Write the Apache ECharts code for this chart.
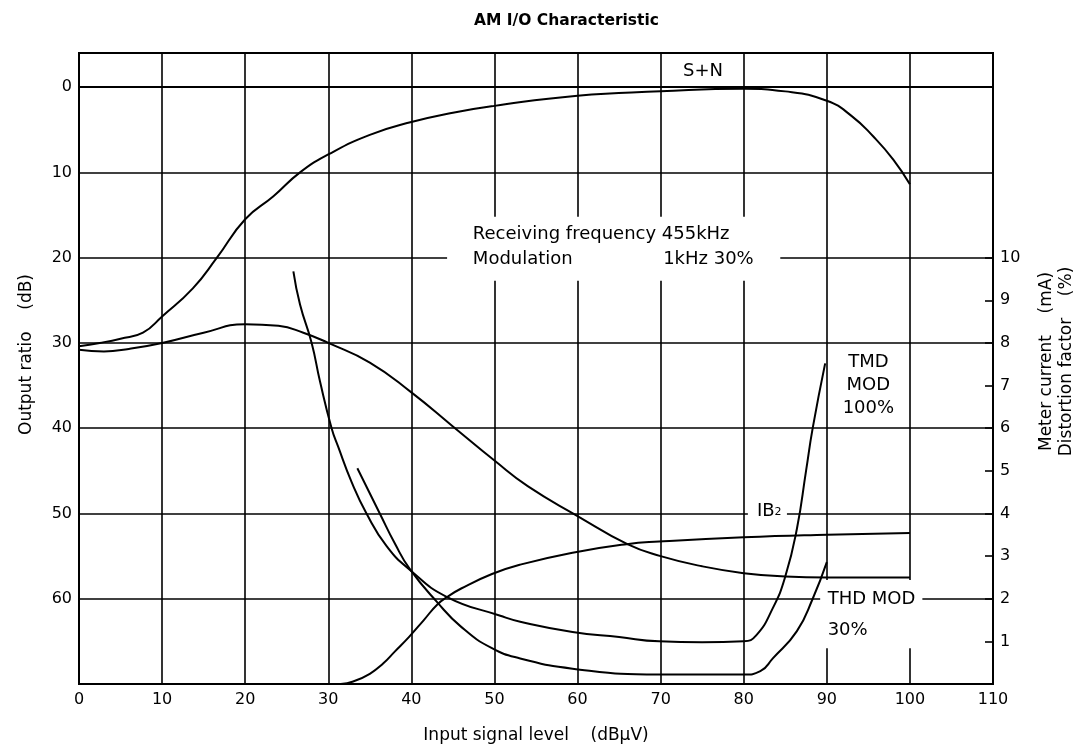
<!DOCTYPE html>
<html>
<head>
<meta charset="utf-8">
<title>AM I/O Characteristic</title>
<script src="https://cdn.jsdelivr.net/npm/echarts@6/dist/echarts.min.js"></script>
<style>
    html, body { margin: 0; padding: 0; background: #fff; }
    #chart0 { width: 1087px; height: 751px; }
</style>
</head>
<body>
<div id="chart0"></div>
<script>
// S+N output (dB, left axis)
var snX  = [0, 2.5, 5, 7.7, 10, 13.7, 16.6, 20, 23.4, 26.6, 30, 35, 40, 45, 50, 60, 70, 80, 85, 90, 93, 95.6, 98, 100];
var snDb = [30.4, 30.0, 29.5, 28.8, 26.9, 23.6, 20.0, 15.5, 12.8, 10.0, 7.9, 5.6, 4.1, 3.0, 2.2, 1.0, 0.5, 0.2, 0.5, 1.6, 3.4, 5.8, 8.5, 11.4];

// noise output (dB, left axis)
var nX  = [0, 3, 6, 10, 15, 20, 24, 27, 30, 35, 40, 45, 50, 54, 60, 66, 70, 75, 80, 85, 90, 100];
var nDb = [30.8, 31.0, 30.7, 30.0, 28.8, 27.8, 28.0, 28.8, 30.0, 32.3, 35.8, 39.8, 43.8, 46.8, 50.3, 53.6, 55.0, 56.2, 57.0, 57.4, 57.5, 57.5];

// TMD MOD 100% (%, right axis)
var tmdX = [25.8, 26.6, 28.0, 29.0, 30.4, 31.2, 32.8, 34.6, 37.0, 39.8, 44.3, 50.7, 53.1, 59.4, 65, 69.8, 75, 80, 81.5, 83.5, 85, 86.4, 87.5, 88.3, 89.8];
var tmdV = [9.68, 8.9, 8.0, 7.1, 6.0, 5.56, 4.74, 4.0, 3.24, 2.68, 2.04, 1.6, 1.46, 1.22, 1.1, 1.0, 0.98, 1.0, 1.14, 1.78, 2.52, 3.64, 5.0, 6.0, 7.52];

// THD MOD 30% (%, right axis)
var thdX = [33.5, 36.2, 38, 39.8, 43.1, 46, 49.7, 53.1, 59.4, 69.8, 80, 82, 83.5, 86.4, 88.3, 90];
var thdV = [5.06, 4.0, 3.3, 2.7, 1.92, 1.34, 0.84, 0.6, 0.36, 0.22, 0.22, 0.3, 0.6, 1.24, 2.0, 2.86];

// IB2 meter current (mA, right axis)
var ibX = [31.5, 33, 35, 36.6, 38, 39.7, 41.5, 43.1, 44.3, 46, 49.7, 53.1, 59.4, 65.9, 69.8, 80, 90, 100];
var ibV = [0, 0.06, 0.24, 0.48, 0.76, 1.1, 1.5, 1.86, 2.04, 2.24, 2.58, 2.8, 3.08, 3.28, 3.34, 3.44, 3.5, 3.54];

// tick labels
var dbTicks = [0, 10, 20, 30, 40, 50, 60];
var rightTicks = [1, 2, 3, 4, 5, 6, 7, 8, 9, 10];

var FONT = 'DejaVu Sans';

function pairs(xs, ys) {
    return xs.map(function (x, i) { return [x, ys[i]]; });
}

function curve(name, axis, xs, ys) {
    return {
        name: name,
        type: 'line',
        yAxisIndex: axis,
        data: pairs(xs, ys),
        symbol: 'none',
        smooth: 0.5,
        z: 3,
        lineStyle: { color: '#000', width: 2 }
    };
}

var chartDom = document.getElementById('chart0');
var myChart = echarts.init(chartDom);
var gridLine = { lineStyle: { color: '#000', width: 1.6 } };

var option = {
    animation: false,
    backgroundColor: '#fff',
    textStyle: { fontFamily: FONT, color: '#000' },
    title: {
        text: 'AM I/O Characteristic',
        left: 469,
        top: 8,
        textStyle: { fontFamily: FONT, fontSize: 15.5, fontWeight: 'bold', color: '#000' }
    },
    grid: {
        left: 79, right: 94, top: 53, bottom: 67,
        show: true,
        borderColor: '#000',
        borderWidth: 2
    },
    xAxis: {
        type: 'value',
        min: 0,
        max: 110,
        interval: 10,
        name: 'Input signal level    (dBµV)',
        nameLocation: 'middle',
        nameGap: 43,
        nameTextStyle: { fontSize: 17, color: '#000' },
        axisLine: { lineStyle: { color: '#000', width: 2 } },
        axisTick: { show: false },
        axisLabel: { fontSize: 16, color: '#000', margin: 8 },
        splitLine: gridLine
    },
    yAxis: [
        {
            type: 'value',
            inverse: true,
            min: -4,
            max: 70,
            splitNumber: 7,
            position: 'left',
            name: 'Output ratio    (dB)',
            nameLocation: 'middle',
            nameRotate: 90,
            nameGap: 44,
            nameTextStyle: { fontSize: 17, color: '#000', padding: [0, 0, 0, 28] },
            axisLine: { lineStyle: { color: '#000', width: 2 } },
            axisTick: { show: false },
            axisLabel: { customValues: dbTicks, fontSize: 16, color: '#000', margin: 7 },
            splitLine: gridLine
        },
        {
            type: 'value',
            min: 0,
            max: 14.8,
            position: 'right',
            name: 'Meter current    (mA)\nDistortion factor    (%)',
            nameLocation: 'middle',
            nameRotate: 90,
            nameGap: 44,
            nameTextStyle: { fontSize: 17, color: '#000', lineHeight: 20, padding: [0, 0, 0, 14] },
            axisLine: { lineStyle: { color: '#000', width: 2 } },
            axisTick: {
                show: true, inside: true, length: 8, customValues: rightTicks,
                lineStyle: { color: '#000', width: 1.6 }
            },
            axisLabel: { customValues: rightTicks, fontSize: 16, color: '#000', margin: 7 },
            splitLine: { show: false }
        }
    ],
    series: [
        curve('S+N', 0, snX, snDb),
        curve('N', 0, nX, nDb),
        curve('TMD MOD 100%', 1, tmdX, tmdV),
        curve('THD MOD 30%', 1, thdX, thdV),
        curve('IB2', 1, ibX, ibV)
    ]
};

option && myChart.setOption(option);

// annotations, placed in (input level, dB) terms
function px(x, db) {
    return myChart.convertToPixel({ xAxisIndex: 0, yAxisIndex: 0 }, [x, db]);
}

function blank(x0, d0, x1, d1) {
    var a = px(x0, d0), b = px(x1, d1);
    return {
        type: 'rect', z: 1, silent: true,
        shape: { x: a[0], y: a[1], width: b[0] - a[0], height: b[1] - a[1] },
        style: { fill: '#fff' }
    };
}

function note(x, db, text, size, align, lh) {
    var p = px(x, db);
    return {
        type: 'text', z: 4, silent: true,
        x: p[0], y: p[1],
        style: {
            text: text,
            font: size + 'px "' + FONT + '"',
            fill: '#000',
            textAlign: align || 'left',
            textVerticalAlign: 'middle',
            lineHeight: lh || size
        }
    };
}

myChart.setOption({
    graphic: [
        blank(44.3, 15.2, 84.4, 22.7),
        blank(89.2, 57.8, 101.5, 65.8),
        blank(80.5, 48.8, 85.2, 50.7),
        note(72.7, -1.8, 'S+N', 18),
        note(47.4, 17.3, 'Receiving frequency 455kHz', 18),
        note(47.4, 20.2, 'Modulation', 18),
        note(70.3, 20.2, '1kHz 30%', 18),
        note(95.0, 35.0, 'TMD\nMOD\n100%', 18, 'center', 23),
        note(81.6, 49.7, 'IB', 18),
        note(83.7, 49.9, '2', 11),
        note(90.1, 60.1, 'THD MOD', 18),
        note(90.1, 63.7, '30%', 18)
    ]
});
</script>
</body>
</html>
